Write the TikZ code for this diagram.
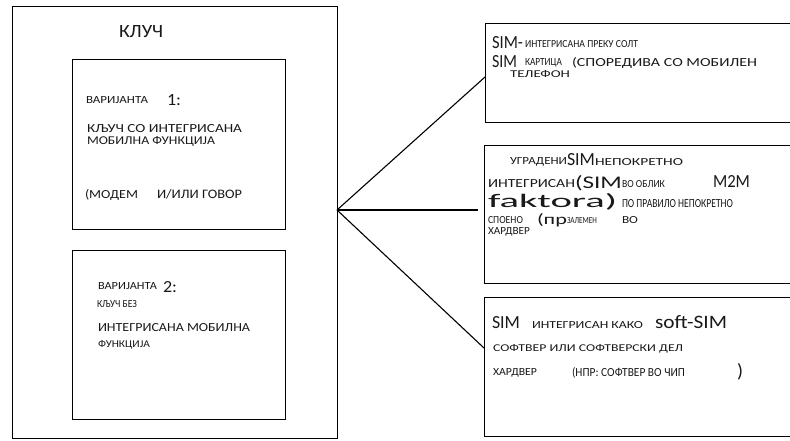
\documentclass[tikz,border=0pt]{standalone}
\usepackage{fontspec}
\setmainfont{Carlito}
\usepackage{graphicx}
\usetikzlibrary{calc}
\tikzset{
  frame/.style={draw=black, line width=1.1pt, fill=none, inner sep=0pt, anchor=north west},
  link/.style={draw=black, line width=1.1pt},
  lbl/.style={anchor=base west, inner sep=0pt, outer sep=0pt, text=black!90},
}
\newcommand\tx[6]{\node[lbl] (#1) at (#2,#3) {\resizebox{#4pt}{#5pt}{#6}};}
\begin{document}
\begin{tikzpicture}[x=1pt,y=-1pt]
\useasboundingbox (0,0) rectangle (790,440);
\clip (0,0) rectangle (790,440);
% boxes
\node[frame, minimum width=325pt, minimum height=432pt] (outer) at (12,6) {};
\node[frame, minimum width=213pt, minimum height=170pt] (v1) at (72,59) {};
\node[frame, minimum width=213pt, minimum height=169pt] (v2) at (72,250) {};
\node[frame, minimum width=330pt, minimum height=99pt] (A) at (485,23) {};
\node[frame, minimum width=330pt, minimum height=138pt] (B) at (484,145) {};
\node[frame, minimum width=330pt, minimum height=139pt] (C) at (484,297) {};
% connectors
\coordinate (hub) at (337,210);
\draw[link] (hub) -- ([yshift=-54pt]A.north west);
\draw[link] (hub) -- ($(hub -| B.west)+(-6,0)$);
\draw[link] (hub) -- ([yshift=-51pt]C.north west);
% title
\tx{t0}{119}{37}{44}{12}{КЛУЧ}
% variant 1
\tx{v1a}{86}{103}{62}{7}{ВАРИЈАНТА}
\tx{v1b}{167}{105}{14}{11}{1:}
\tx{v1c}{87}{132}{155}{8}{КЉУЧ СО ИНТЕГРИСАНА}
\tx{v1d}{87}{144}{128}{8}{МОБИЛНА ФУНКЦИЈА}
\tx{v1e}{85}{198}{53}{9}{(МОДЕМ}
\tx{v1f}{157}{198}{85}{9}{И/ИЛИ ГОВОР}
% variant 2
\tx{v2a}{98}{289}{59}{7}{ВАРИЈАНТА}
\tx{v2b}{163}{292}{14}{11}{2:}
\tx{v2c}{97}{307}{40}{7}{КЉУЧ БЕЗ}
\tx{v2d}{98}{331}{152}{8}{ИНТЕГРИСАНА МОБИЛНА}
\tx{v2e}{98}{347}{52}{7}{ФУНКЦИЈА}
% box A
\tx{a1}{492}{48}{31}{12}{SIM-}
\tx{a2}{525}{47}{113}{7}{ИНТЕГРИСАНА ПРЕКУ СОЛТ}
\tx{a3}{492}{67}{25}{12}{SIM}
\tx{a4}{525}{65}{37}{7}{КАРТИЦА}
\tx{a5}{572}{66}{185}{9}{(СПОРЕДИВА СО МОБИЛЕН}
\tx{a6}{510}{77}{60}{7}{ТЕЛЕФОН}
% box B
\tx{b1}{510}{164}{57}{7}{УГРАДЕНИ}
\tx{b2}{567}{165}{28}{12}{SIM}
\tx{b3}{595}{165}{88}{7}{НЕПОКРЕТНО}
\tx{b4}{488}{187}{87}{8}{ИНТЕГРИСАН}
\tx{b5}{575}{188}{47}{13}{(SIM}
\tx{b6}{622}{187}{43}{7}{ВО ОБЛИК}
\tx{b7}{713}{187}{37}{12}{M2M}
\tx{b8}{488}{207}{129}{14}{faktora)}
\tx{b9}{622}{207}{111}{8}{ПО ПРАВИЛО НЕПОКРЕТНО}
\tx{b10}{488}{223}{35}{7}{СПОЕНО}
\tx{b11}{537}{224}{30}{11}{(пр}
\tx{b12}{567}{223}{30}{6}{ЗАЛЕМЕН}
\tx{b13}{622}{223}{16}{7}{ВО}
\tx{b14}{488}{234}{42}{7}{ХАРДВЕР}
% box C
\tx{c1}{492}{328}{28}{12}{SIM}
\tx{c2}{532}{328}{111}{7}{ИНТЕГРИСАН КАКО}
\tx{c3}{655}{328}{72}{13}{soft-SIM}
\tx{c4}{493}{351}{190}{7}{СОФТВЕР ИЛИ СОФТВЕРСКИ ДЕЛ}
\tx{c5}{493}{375}{44}{7}{ХАРДВЕР}
\tx{c6}{572}{376}{113}{9}{(НПР: СОФТВЕР ВО ЧИП}
\tx{c7}{737}{377}{6}{14}{)}
\end{tikzpicture}
\end{document}
